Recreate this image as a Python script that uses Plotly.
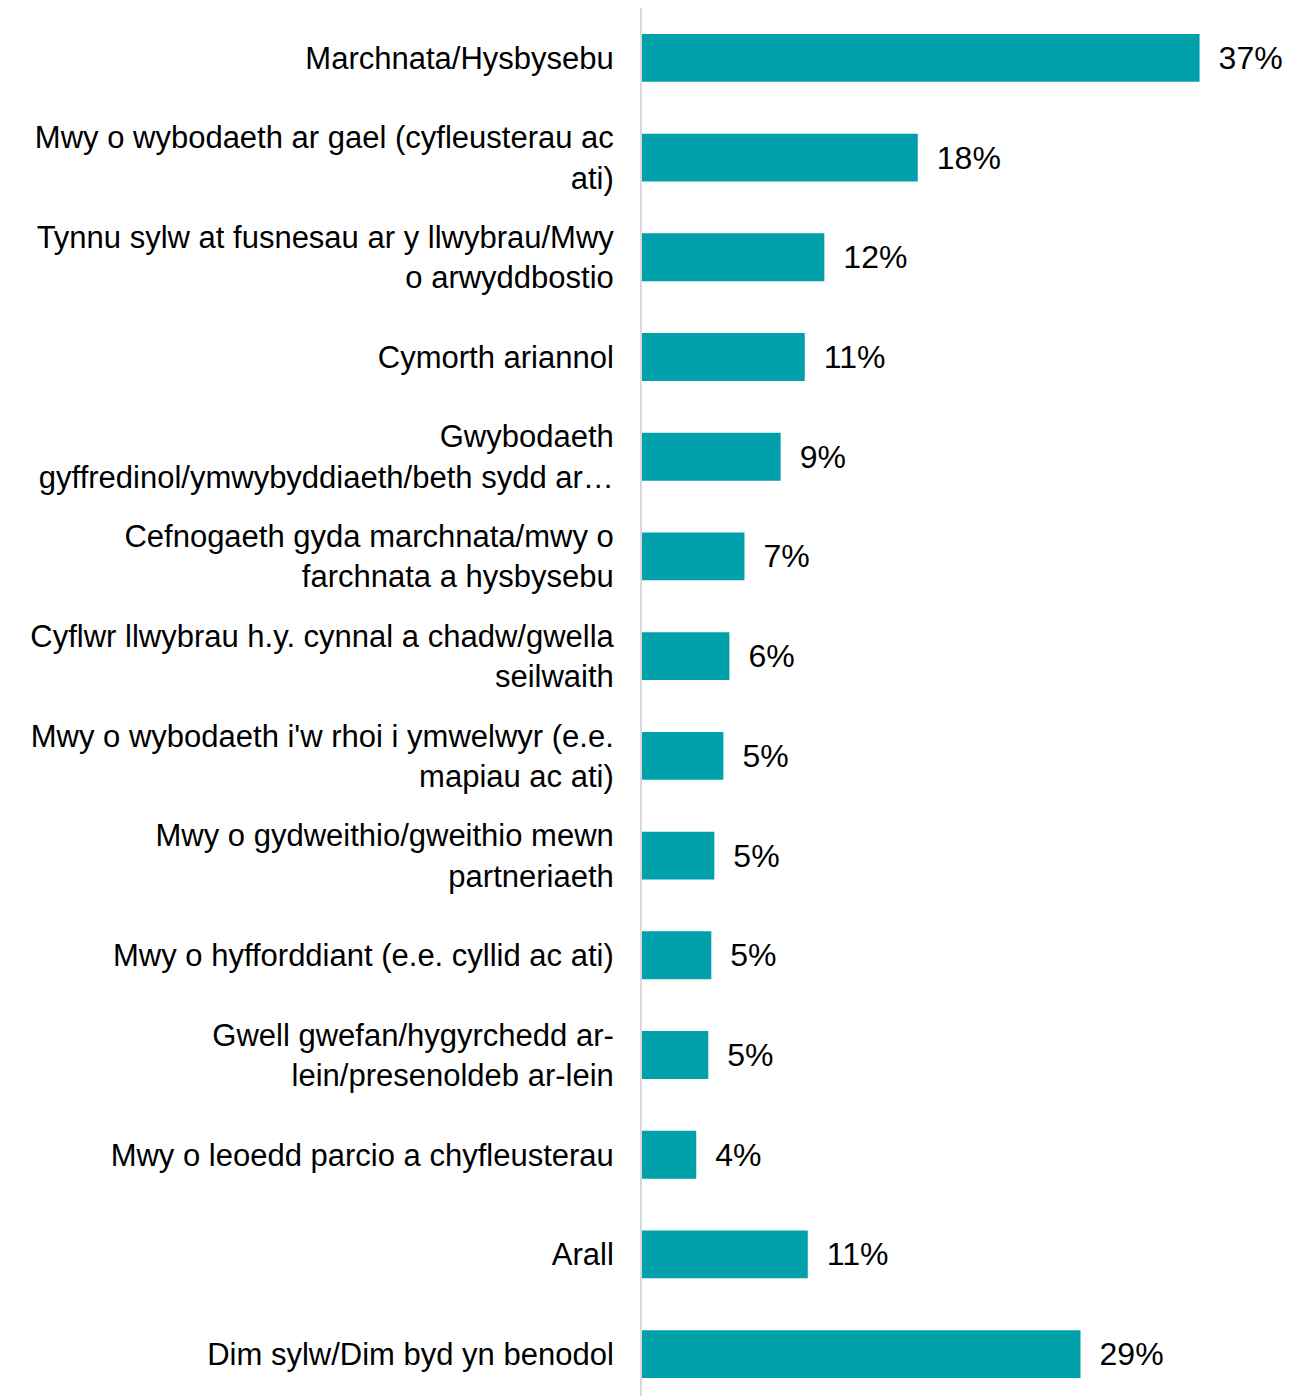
import plotly.graph_objects as go

labels = [
    "Marchnata/Hysbysebu",
    "Mwy o wybodaeth ar gael (cyfleusterau ac<br>ati)",
    "Tynnu sylw at fusnesau ar y llwybrau/Mwy<br>o arwyddbostio",
    "Cymorth ariannol",
    "Gwybodaeth<br>gyffredinol/ymwybyddiaeth/beth sydd ar…",
    "Cefnogaeth gyda marchnata/mwy o<br>farchnata a hysbysebu",
    "Cyflwr llwybrau h.y. cynnal a chadw/gwella<br>seilwaith",
    "Mwy o wybodaeth i'w rhoi i ymwelwyr (e.e.<br>mapiau ac ati)",
    "Mwy o gydweithio/gweithio mewn<br>partneriaeth",
    "Mwy o hyfforddiant (e.e. cyllid ac ati)",
    "Gwell gwefan/hygyrchedd ar-<br>lein/presenoldeb ar-lein",
    "Mwy o leoedd parcio a chyfleusterau",
    "Arall",
    "Dim sylw/Dim byd yn benodol",
]

# bar lengths (percent)
values = [37.0, 18.3, 12.1, 10.8, 9.2, 6.8, 5.8, 5.4, 4.8, 4.6, 4.4, 3.6, 11.0, 29.1]
value_labels = ["37%", "18%", "12%", "11%", "9%", "7%", "6%", "5%", "5%", "5%", "5%", "4%", "11%", "29%"]

fnt = dict(family="Liberation Sans, Arial, sans-serif", size=32, color="#000000")
tick_fnt = dict(family="Liberation Sans, Arial, sans-serif", size=31, color="#000000")

fig = go.Figure(go.Bar(
    x=values,
    y=labels,
    orientation="h",
    marker=dict(color="#00A1AB", line=dict(width=0)),
    text=value_labels,
    texttemplate="\u2002%{text}",
    textposition="outside",
    textfont=fnt,
    cliponaxis=False,
    hoverinfo="skip",
))

fig.update_layout(
    width=1297,
    height=1396,
    margin=dict(l=634, r=15, t=0, b=0),
    plot_bgcolor="white",
    paper_bgcolor="white",
    bargap=0.52,
    showlegend=False,
    font=fnt,
    xaxis=dict(range=[0, 43], visible=False, showgrid=False, zeroline=False),
    yaxis=dict(
        type="category",
        autorange="reversed",
        showgrid=False,
        showline=True,
        linecolor="#d9d9d9",
        linewidth=2,
        ticks="",
        ticklabelstandoff=20,
        tickfont=tick_fnt,
        automargin=False,
    ),
)

fig.write_html("out.html")
